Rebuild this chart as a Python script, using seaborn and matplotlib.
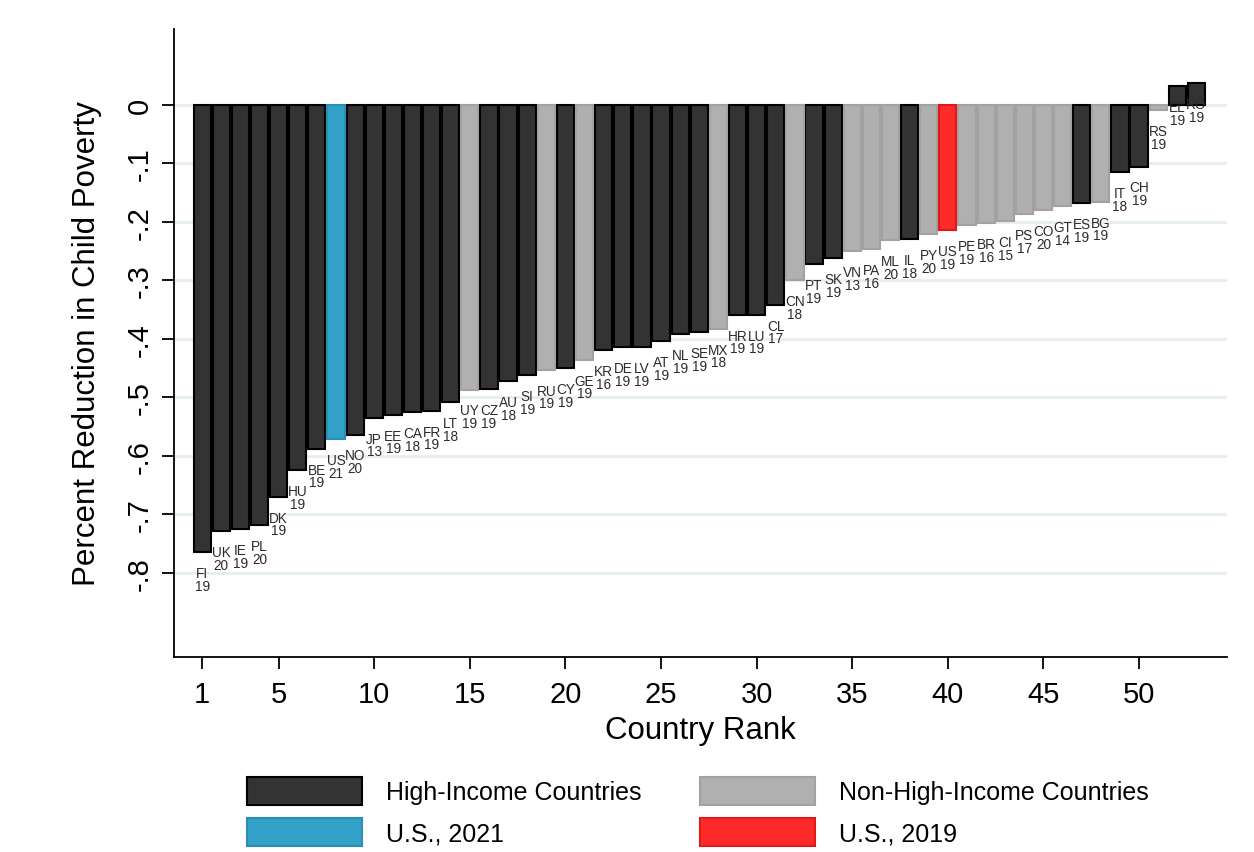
"""Child poverty reduction by country rank, bar chart with country labels."""

import matplotlib
matplotlib.use('Agg')
import matplotlib.pyplot as plt
from matplotlib.patches import Patch
import seaborn as sns
import pandas as pd

# Data
codes = ['FI', 'UK', 'IE', 'PL', 'DK', 'HU', 'BE', 'US', 'NO', 'JP',
         'EE', 'CA', 'FR', 'LT', 'UY', 'CZ', 'AU', 'SI', 'RU', 'CY',
         'GE', 'KR', 'DE', 'LV', 'AT', 'NL', 'SE', 'MX', 'HR', 'LU',
         'CL', 'CN', 'PT', 'SK', 'VN', 'PA', 'ML', 'IL', 'PY', 'US',
         'PE', 'BR', 'CI', 'PS', 'CO', 'GT', 'ES', 'BG', 'IT', 'CH',
         'RS', 'EL', 'RO']
years = ['19', '20', '19', '20', '19', '19', '19', '21', '20', '13',
         '19', '18', '19', '18', '19', '19', '18', '19', '19', '19',
         '19', '16', '19', '19', '19', '19', '19', '18', '19', '19',
         '17', '18', '19', '19', '13', '16', '20', '18', '20', '19',
         '19', '16', '15', '17', '20', '14', '19', '19', '18', '19',
         '19', '19', '19']
values = [-0.765, -0.729, -0.726, -0.719, -0.670, -0.625, -0.588, -0.572, -0.564, -0.535,
          -0.530, -0.525, -0.523, -0.508, -0.487, -0.486, -0.472, -0.463, -0.453, -0.451,
          -0.436, -0.419, -0.414, -0.414, -0.404, -0.392, -0.389, -0.383, -0.359, -0.359,
          -0.342, -0.300, -0.272, -0.262, -0.250, -0.247, -0.232, -0.230, -0.221, -0.214,
          -0.206, -0.203, -0.199, -0.187, -0.181, -0.174, -0.169, -0.166, -0.116, -0.106,
          -0.010, 0.032, 0.037]
groups = ['high', 'high', 'high', 'high', 'high', 'high', 'high', 'us21', 'high', 'high',
          'high', 'high', 'high', 'high', 'non', 'high', 'high', 'high', 'non', 'high',
          'non', 'high', 'high', 'high', 'high', 'high', 'high', 'non', 'high', 'high',
          'high', 'non', 'high', 'high', 'non', 'non', 'non', 'high', 'non', 'us19',
          'non', 'non', 'non', 'non', 'non', 'non', 'high', 'non', 'high', 'high',
          'non', 'high', 'high']

y_ticks = [0, -0.1, -0.2, -0.3, -0.4, -0.5, -0.6, -0.7, -0.8]
y_tick_labels = ['0', '-.1', '-.2', '-.3', '-.4', '-.5', '-.6', '-.7', '-.8']
x_ticks = [1, 5, 10, 15, 20, 25, 30, 35, 40, 45, 50]

fill_colors = {'high': '#333333', 'non': '#b0b0b0', 'us21': '#32a2c9', 'us19': '#ff2b2b'}
edge_colors = {'high': '#000000', 'non': '#a2a2a2', 'us21': '#2a8fb4', 'us19': '#e01818'}
legend_names = {'high': 'High-Income Countries', 'non': 'Non-High-Income Countries',
                'us21': 'U.S., 2021', 'us19': 'U.S., 2019'}

df = pd.DataFrame({
    'rank': range(1, len(values) + 1),
    'value': values,
    'group': groups,
    'code': codes,
    'year': years,
})

sns.set_style('white')
plt.rcParams['font.family'] = ['Liberation Sans', 'DejaVu Sans']
for key in ['text.color', 'axes.labelcolor', 'xtick.color', 'ytick.color']:
    plt.rcParams[key] = 'black'

fig = plt.figure(figsize=(12.54, 8.53), dpi=100)
ax = fig.add_axes([0.1388, 0.2286, 0.8397, 0.7362])

# grid first so bars sit on top
for t in y_ticks:
    ax.axhline(t, color='#e6eef1', linewidth=2, zorder=0)

sns.barplot(
    data=df, x='rank', y='value', hue='group',
    palette=fill_colors, native_scale=True, dodge=False, saturation=1,
    width=0.9, legend=False, ax=ax, zorder=2
)

# per-bar edge colours, matched by bar position (seaborn draws bars hue by hue)
group_by_rank = dict(zip(df['rank'], df['group']))
for patch in ax.patches:
    r = int(round(patch.get_x() + patch.get_width() / 2))
    g = group_by_rank.get(r)
    if g is None:
        continue
    patch.set_facecolor(fill_colors[g])
    patch.set_edgecolor(edge_colors[g])
    patch.set_linewidth(1.5)

# country / year labels under the end of each bar
for _, row in df.iterrows():
    ax.annotate(
        f"{row['code']}\n{row['year']}",
        (row['rank'], row['value']),
        xytext=(0, -10), textcoords='offset points',
        ha='center', va='top', fontsize=9.8,
        linespacing=0.9, color='#2b2b2b'
    )

ax.set_xlim(-0.47, 54.6)
ax.set_ylim(-0.944, 0.129)
ax.set_xticks(x_ticks)
ax.set_xticklabels([str(x) for x in x_ticks], fontsize=21)
ax.set_yticks(y_ticks)
ax.set_yticklabels(y_tick_labels, fontsize=21, rotation=90, va='center')
ax.tick_params(axis='both', direction='out', length=8.6, width=1.3, color='black',
               bottom=True, left=True)
ax.tick_params(axis='x', pad=8)
ax.tick_params(axis='y', pad=6)

ax.set_xlabel('Country Rank', fontsize=22.5, labelpad=5)
ax.set_ylabel('Percent Reduction in Child Poverty', fontsize=22.5, labelpad=17)

for side in ['top', 'right']:
    ax.spines[side].set_visible(False)
for side in ['left', 'bottom']:
    ax.spines[side].set_color('black')
    ax.spines[side].set_linewidth(1.3)

order = ['high', 'us21', 'non', 'us19']
handles = [Patch(facecolor=fill_colors[g], edgecolor=edge_colors[g], linewidth=1.5,
                 label=legend_names[g]) for g in order]
fig.legend(
    handles=handles, loc='lower center', bbox_to_anchor=(0.5565, -0.019),
    ncol=2, frameon=False, fontsize=18,
    handlelength=4.6, handleheight=1.3, handletextpad=0.95,
    columnspacing=2.35, labelspacing=0.55
)

plt.savefig('out.png', dpi=100)
